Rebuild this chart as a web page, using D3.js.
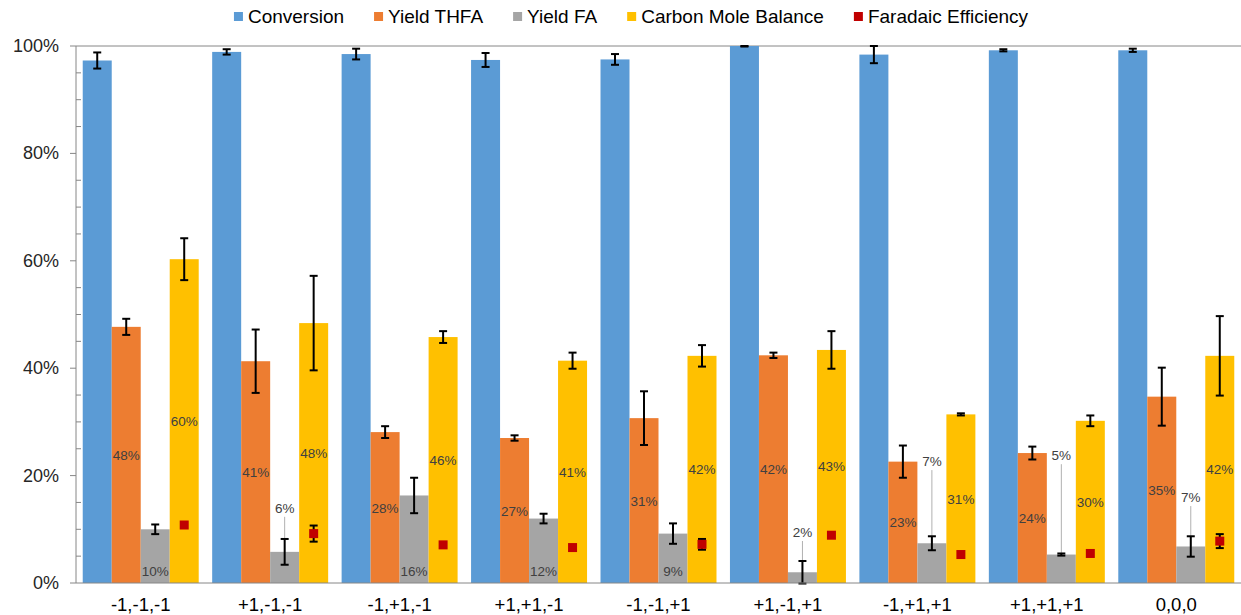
<!DOCTYPE html>
<html>
<head>
<meta charset="utf-8">
<script src="https://cdn.jsdelivr.net/npm/d3@7"></script>
<style>
  html, body { margin: 0; padding: 0; background: #fff; }
  svg { display: block; font-family: "Liberation Sans", Arial, sans-serif; }
</style>
</head>
<body>
<svg id="chart" width="1241" height="615"></svg>
<script>
// Experimental conditions (factor levels)
const conditions = ["-1,-1,-1", "+1,-1,-1", "-1,+1,-1", "+1,+1,-1", "-1,-1,+1", "+1,-1,+1", "-1,+1,+1", "+1,+1,+1", "0,0,0"];

// Bar series (fractions) and their standard deviations
const conversion    = [0.973, 0.989, 0.985, 0.974, 0.975, 1.000, 0.984, 0.992, 0.992];
const conversionErr = [0.015, 0.005, 0.010, 0.013, 0.010, 0.001, 0.016, 0.002, 0.003];
const yieldTHFA     = [0.477, 0.413, 0.281, 0.270, 0.307, 0.424, 0.226, 0.242, 0.347];
const yieldTHFAErr  = [0.015, 0.059, 0.011, 0.005, 0.050, 0.005, 0.030, 0.012, 0.054];
const yieldFA       = [0.100, 0.058, 0.163, 0.120, 0.092, 0.020, 0.074, 0.053, 0.068];
const yieldFAErr    = [0.009, 0.024, 0.033, 0.009, 0.019, 0.021, 0.013, 0.002, 0.019];
const carbonBalance = [0.603, 0.484, 0.458, 0.414, 0.423, 0.434, 0.314, 0.302, 0.423];
const carbonBalErr  = [0.039, 0.088, 0.011, 0.015, 0.020, 0.035, 0.002, 0.010, 0.074];

// Faradaic efficiency markers
const faradaic      = [0.108, 0.092, 0.071, 0.066, 0.072, 0.089, 0.053, 0.055, 0.078];
const faradaicErr   = [0, 0.015, 0, 0, 0.010, 0, 0, 0, 0.013];

// Axis ticks
const yTicks = [0, 0.2, 0.4, 0.6, 0.8, 1.0];

const seriesNames = ["Conversion", "Yield THFA", "Yield FA", "Carbon Mole Balance"];
const legendNames = ["Conversion", "Yield THFA", "Yield FA", "Carbon Mole Balance", "Faradaic Efficiency"];
const colors = ["#5B9BD5", "#ED7D31", "#A5A5A5", "#FFC000", "#C00000"];

// Yield FA labels that sit above the bar on a leader line (label height in axis units)
const faLabelLift = [null, 0.140, null, null, null, 0.095, 0.227, 0.238, 0.160];

const series = [
  { name: seriesNames[0], values: conversion,    err: conversionErr, label: null },
  { name: seriesNames[1], values: yieldTHFA,     err: yieldTHFAErr,  label: "center" },
  { name: seriesNames[2], values: yieldFA,       err: yieldFAErr,    label: "base" },
  { name: seriesNames[3], values: carbonBalance, err: carbonBalErr,  label: "center" }
];

const svg = d3.select("#chart");
const margin = { left: 76, right: 0, top: 46, bottom: 32 };
const W = 1241, H = 615;

const x0 = d3.scaleBand().domain(conditions)
  .range([margin.left, W - margin.right])
  .paddingInner(0.104).paddingOuter(0.052);
const x1 = d3.scaleBand().domain(seriesNames).range([0, x0.bandwidth()]);
const y = d3.scaleLinear().domain([0, 1]).range([H - margin.bottom, margin.top]);

const pct = d3.format(".0%");
const axisColor = "#868686";

// Top border line of the plot area
svg.append("line")
  .attr("x1", margin.left).attr("x2", W)
  .attr("y1", y(1)).attr("y2", y(1))
  .attr("stroke", axisColor).attr("stroke-width", 1);

// Bars
series.forEach((s, si) => {
  const g = svg.append("g");
  g.selectAll("rect").data(s.values).join("rect")
    .attr("x", (d, i) => x0(conditions[i]) + x1(s.name))
    .attr("width", x1.bandwidth())
    .attr("y", d => y(d))
    .attr("height", d => y(0) - y(d))
    .attr("fill", colors[si]);
});

// Data labels
const labelColor = "#404040";
series.forEach((s, si) => {
  if (!s.label) return;
  s.values.forEach((v, i) => {
    const cx = x0(conditions[i]) + x1(s.name) + x1.bandwidth() / 2;
    if (s.label === "center") {
      svg.append("text")
        .attr("x", cx).attr("y", (y(v) + y(0)) / 2 + 5)
        .attr("text-anchor", "middle")
        .attr("font-size", 13.5).attr("fill", labelColor)
        .text(pct(v));
    } else {
      const lift = faLabelLift[i];
      if (lift == null) {
        svg.append("text")
          .attr("x", cx).attr("y", y(0) - 7)
          .attr("text-anchor", "middle")
          .attr("font-size", 13.5).attr("fill", labelColor)
          .text(pct(v));
      } else {
        const ly = y(lift);
        svg.append("line")
          .attr("x1", cx).attr("x2", cx)
          .attr("y1", ly + 9).attr("y2", y(v))
          .attr("stroke", "#B0B0B0").attr("stroke-width", 1);
        svg.append("text")
          .attr("x", cx).attr("y", ly + 5)
          .attr("text-anchor", "middle")
          .attr("font-size", 13.5).attr("fill", labelColor)
          .text(pct(v));
      }
    }
  });
});

// Error bars
function errorBar(cx, v, e) {
  if (!e) return;
  const cap = 4;
  const top = y(Math.min(v + e, 1.0));
  const bot = y(v - e);
  const g = svg.append("g").attr("stroke", "#000").attr("stroke-width", 2);
  g.append("line").attr("x1", cx).attr("x2", cx).attr("y1", top).attr("y2", bot);
  g.append("line").attr("x1", cx - cap).attr("x2", cx + cap).attr("y1", top).attr("y2", top);
  g.append("line").attr("x1", cx - cap).attr("x2", cx + cap).attr("y1", bot).attr("y2", bot);
}
series.forEach(s => {
  s.values.forEach((v, i) => {
    const cx = x0(conditions[i]) + x1(s.name) + x1.bandwidth() / 2;
    errorBar(cx, v, s.err[i]);
  });
});

// Faradaic efficiency markers (on the carbon balance bar)
faradaic.forEach((v, i) => {
  const cx = x0(conditions[i]) + x1(seriesNames[3]) + x1.bandwidth() / 2;
  errorBar(cx, v, faradaicErr[i]);
  svg.append("rect")
    .attr("x", cx - 4.5).attr("y", y(v) - 4.5)
    .attr("width", 9).attr("height", 9)
    .attr("fill", colors[4]);
});

// Y axis
const yAxisG = svg.append("g");
yAxisG.append("line")
  .attr("x1", margin.left).attr("x2", margin.left)
  .attr("y1", y(0)).attr("y2", y(1))
  .attr("stroke", axisColor);
d3.range(0, 1.0001, 0.05).forEach(t => {
  const major = yTicks.some(m => Math.abs(m - t) < 1e-6);
  yAxisG.append("line")
    .attr("x1", major ? margin.left - 6 : margin.left)
    .attr("x2", major ? margin.left : margin.left + 5)
    .attr("y1", y(t)).attr("y2", y(t))
    .attr("stroke", axisColor);
});
yTicks.forEach(t => {
  yAxisG.append("text")
    .attr("x", margin.left - 17).attr("y", y(t) + 6)
    .attr("text-anchor", "end")
    .attr("font-size", 18).attr("fill", "#262626")
    .text(pct(t));
});

// X axis
svg.append("line")
  .attr("x1", margin.left).attr("x2", W)
  .attr("y1", y(0)).attr("y2", y(0))
  .attr("stroke", axisColor);
svg.append("g").selectAll("text").data(conditions).join("text")
  .attr("x", d => x0(d) + x0.bandwidth() / 2)
  .attr("y", 611)
  .attr("text-anchor", "middle")
  .attr("font-size", 18.5).attr("fill", "#000")
  .text(d => d);

// Legend
const legend = svg.append("g");
let lx = 0;
const itemGap = 30;
legendNames.forEach((name, i) => {
  const item = legend.append("g").attr("transform", `translate(${lx},0)`);
  item.append("rect").attr("x", 0).attr("y", 12).attr("width", 9).attr("height", 9).attr("fill", colors[i]);
  const t = item.append("text").attr("x", 14).attr("y", 23)
    .attr("font-size", 19).attr("fill", "#000").text(name);
  lx += 14 + t.node().getComputedTextLength() + itemGap;
});
const legendWidth = lx - itemGap;
legend.attr("transform", `translate(${631 - legendWidth / 2},0)`);
</script>
</body>
</html>
